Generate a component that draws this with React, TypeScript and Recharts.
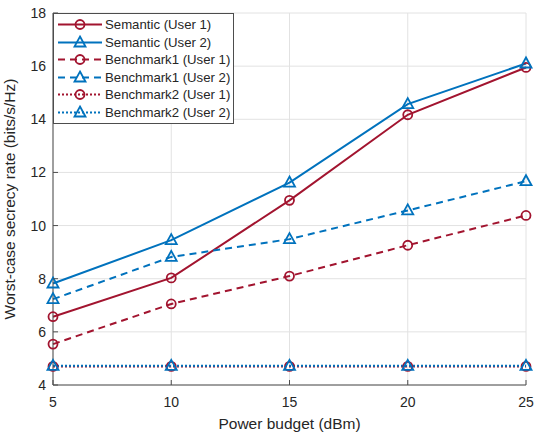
import React from 'react';
import {
  LineChart,
  Line,
  XAxis,
  YAxis,
  CartesianGrid,
} from 'recharts';

const powerBudget = [5, 10, 15, 20, 25];
const semanticUser1 = [6.57, 8.03, 10.95, 14.17, 15.95];
const semanticUser2 = [7.82, 9.45, 11.62, 14.57, 16.1];
const bench1User1 = [5.54, 7.05, 8.1, 9.26, 10.38];
const bench1User2 = [7.23, 8.82, 9.49, 10.57, 11.67];
const bench2User1 = [4.7, 4.7, 4.7, 4.7, 4.7];
const bench2User2 = [4.72, 4.72, 4.72, 4.72, 4.72];
const xTicks = [5, 10, 15, 20, 25];
const yTicks = [4, 6, 8, 10, 12, 14, 16, 18];

const RED = '#A2142F';
const BLUE = '#0072BD';
const AXIS = '#4d4d4d';
const TEXT = '#262626';
const FONT = '"Liberation Sans", Arial, Helvetica, sans-serif';

const data = powerBudget.map((p, i) => ({
  p,
  s1: semanticUser1[i],
  s2: semanticUser2[i],
  b11: bench1User1[i],
  b12: bench1User2[i],
  b21: bench2User1[i],
  b22: bench2User2[i],
}));

const series = [
  { key: 's1', name: 'Semantic (User 1)', color: RED, marker: 'circle', dash: undefined, width: 2 },
  { key: 's2', name: 'Semantic (User 2)', color: BLUE, marker: 'triangle', dash: undefined, width: 2 },
  { key: 'b11', name: 'Benchmark1 (User 1)', color: RED, marker: 'circle', dash: '7 5', width: 2 },
  { key: 'b12', name: 'Benchmark1 (User 2)', color: BLUE, marker: 'triangle', dash: '7 5', width: 2 },
  { key: 'b21', name: 'Benchmark2 (User 1)', color: RED, marker: 'circle', dash: '2 2', width: 2 },
  { key: 'b22', name: 'Benchmark2 (User 2)', color: BLUE, marker: 'triangle', dash: '2 2', width: 2 },
];

const Marker = ({ cx, cy, color, marker }: any) => {
  if (marker === 'circle') {
    return <circle cx={cx} cy={cy} r={4.5} fill="none" stroke={color} strokeWidth={1.8} />;
  }
  return (
    <path
      d={`M${cx},${cy - 6} L${cx + 5.5},${cy + 4} L${cx - 5.5},${cy + 4} Z`}
      fill="none"
      stroke={color}
      strokeWidth={1.8}
    />
  );
};

const BottomTick = ({ x, y, payload }: any) => (
  <g>
    <line x1={x} y1={y} x2={x} y2={y - 5} stroke={AXIS} />
    <text x={x} y={y + 22} textAnchor="middle" fill={TEXT} fontSize={14} fontFamily={FONT}>
      {payload.value}
    </text>
  </g>
);

const TopTick = ({ x, y }: any) => <line x1={x} y1={y} x2={x} y2={y + 5} stroke={AXIS} />;

const LeftTick = ({ x, y, payload }: any) => (
  <g>
    <line x1={x} y1={y} x2={x + 5} y2={y} stroke={AXIS} />
    <text x={x - 7} y={y + 5} textAnchor="end" fill={TEXT} fontSize={14} fontFamily={FONT}>
      {payload.value}
    </text>
  </g>
);

const RightTick = ({ x, y }: any) => <line x1={x} y1={y} x2={x - 5} y2={y} stroke={AXIS} />;

const LegendBox = () => (
  <div
    style={{
      position: 'absolute',
      left: 53,
      top: 13,
      background: 'white',
      border: `1px solid ${AXIS}`,
      padding: '2px 3px 2px 3px',
      fontFamily: FONT,
      fontSize: 13.2,
      color: TEXT,
    }}
  >
    {series.map((s) => (
      <div key={s.key} style={{ display: 'flex', alignItems: 'center', height: 17.5 }}>
        <svg width={46} height={17}>
          <line x1={1} y1={8.5} x2={45} y2={8.5} stroke={s.color} strokeWidth={s.width} strokeDasharray={s.dash} />
          <Marker cx={23} cy={8.5} color={s.color} marker={s.marker} />
        </svg>
        <span style={{ marginLeft: 2, whiteSpace: 'nowrap' }}>{s.name}</span>
      </div>
    ))}
  </div>
);

export default function App() {
  return (
    <div style={{ position: 'absolute', left: 0, top: 0, width: 535, height: 437, background: 'white' }}>
      <LineChart width={535} height={437} data={data} margin={{ top: 13, right: 9, left: 0, bottom: 0 }}>
        <CartesianGrid stroke="#e2e2e2" />
        <XAxis
          dataKey="p"
          type="number"
          domain={[5, 25]}
          ticks={xTicks}
          height={52}
          tickSize={0}
          tickMargin={0}
          stroke={AXIS}
          tick={<BottomTick />}
          label={{ value: 'Power budget (dBm)', position: 'insideBottom', offset: 8, fill: TEXT, fontSize: 15.5, fontFamily: FONT }}
        />
        <XAxis
          xAxisId="top"
          orientation="top"
          dataKey="p"
          type="number"
          domain={[5, 25]}
          ticks={xTicks}
          height={0}
          tickSize={0}
          tickMargin={0}
          stroke={AXIS}
          tick={<TopTick />}
        />
        <YAxis
          type="number"
          domain={[4, 18]}
          ticks={yTicks}
          width={53}
          tickSize={0}
          tickMargin={0}
          stroke={AXIS}
          tick={<LeftTick />}
          label={{
            value: 'Worst-case secrecy rate (bits/s/Hz)',
            angle: -90,
            position: 'insideLeft',
            offset: 9,
            style: { textAnchor: 'middle' },
            fill: TEXT,
            fontSize: 15.5,
            fontFamily: FONT,
          }}
        />
        <YAxis
          yAxisId="right"
          orientation="right"
          type="number"
          domain={[4, 18]}
          ticks={yTicks}
          width={0}
          tickSize={0}
          tickMargin={0}
          stroke={AXIS}
          tick={<RightTick />}
        />
        {series.map((s) => (
          <Line
            key={s.key}
            dataKey={s.key}
            name={s.name}
            type="linear"
            stroke={s.color}
            strokeWidth={s.width}
            strokeDasharray={s.dash}
            isAnimationActive={false}
            dot={(props: any) => (
              <Marker key={`${s.key}-${props.index}`} cx={props.cx} cy={props.cy} color={s.color} marker={s.marker} />
            )}
          />
        ))}
      </LineChart>
      <LegendBox />
    </div>
  );
}
